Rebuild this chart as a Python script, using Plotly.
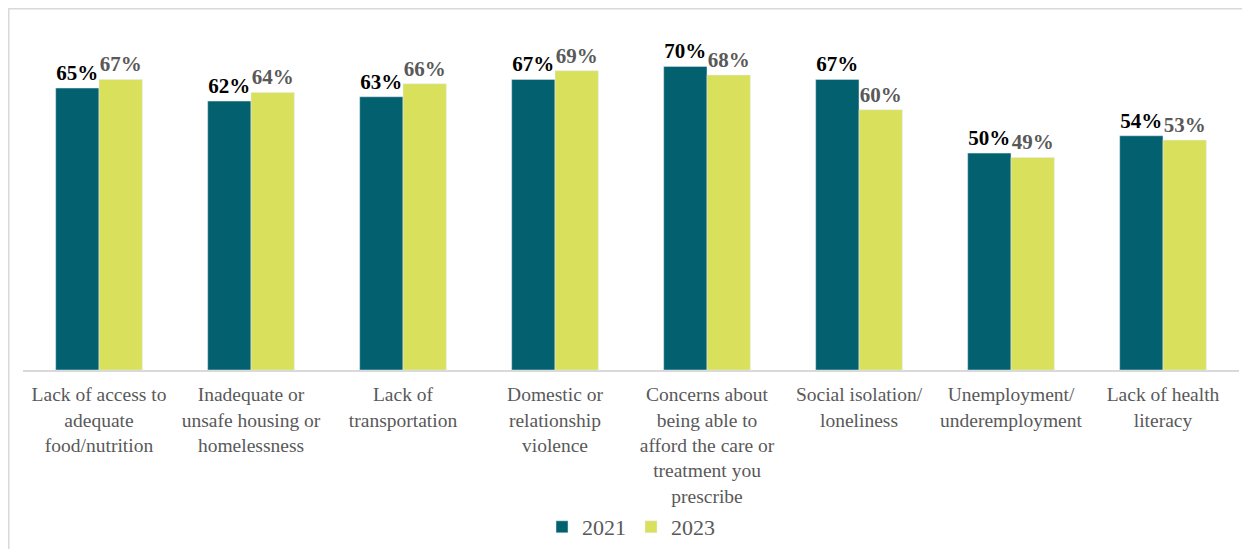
import plotly.graph_objects as go

categories = [
    "Lack of access to<br>adequate<br>food/nutrition",
    "Inadequate or<br>unsafe housing or<br>homelessness",
    "Lack of<br>transportation",
    "Domestic or<br>relationship<br>violence",
    "Concerns about<br>being able to<br>afford the care or<br>treatment you<br>prescribe",
    "Social isolation/<br>loneliness",
    "Unemployment/<br>underemployment",
    "Lack of health<br>literacy",
]
values_2021 = [65, 62, 63, 67, 70, 67, 50, 54]
values_2023 = [67, 64, 66, 69, 68, 60, 49, 53]

C2021 = "#02606F"
C2023 = "#D9E05B"
SERIF = "Liberation Serif"

fig = go.Figure()
fig.add_trace(go.Bar(
    name="2021", x=categories, y=values_2021, marker_color=C2021,
    text=[f"{v}%" for v in values_2021], textposition="outside",
    textfont=dict(family=SERIF, size=21, color="#000000", weight="bold"),
    cliponaxis=False,
))
fig.add_trace(go.Bar(
    name="2023", x=categories, y=values_2023, marker_color=C2023,
    text=[f"{v}%" for v in values_2023], textposition="outside",
    textfont=dict(family=SERIF, size=21, color="#595959", weight="bold"),
    cliponaxis=False,
))

# page has an 8px body margin; figure coordinates = page coordinates - 8
W, H = 1242, 541
ml, mr, mt, mb = 15, 11, 15, 179
pw = W - ml - mr
ph = H - mt - mb

def px_x(p):
    return (p - ml) / pw

def px_y(p):
    return (H - mb - p) / ph

fig.update_layout(
    width=W, height=H,
    margin=dict(l=ml, r=mr, t=mt, b=mb, autoexpand=False),
    paper_bgcolor="white", plot_bgcolor="white",
    barmode="group", bargap=0.43, bargroupgap=0,
    showlegend=True,
    legend=dict(orientation="h", x=0.5, xanchor="center", y=px_y(519), yanchor="middle",
                bgcolor="rgba(0,0,0,0)",
                font=dict(family=SERIF, size=22, color="#595959"),
                traceorder="normal"),
    xaxis=dict(showline=True, linecolor="#D9D9D9", linewidth=1.5, ticks="",
               automargin=False, ticklabelstandoff=6,
               tickfont=dict(family=SERIF, size=19.5, color="#595959")),
    yaxis=dict(range=[0, 80], visible=False, showgrid=False, automargin=False),
    shapes=[dict(type="rect", xref="paper", yref="paper",
                 x0=px_x(0.8), x1=px_x(1260), y0=px_y(0.8), y1=px_y(560),
                 line=dict(color="#D9D9D9", width=1.5), fillcolor="rgba(0,0,0,0)")],
)

fig.write_html("out.html")
